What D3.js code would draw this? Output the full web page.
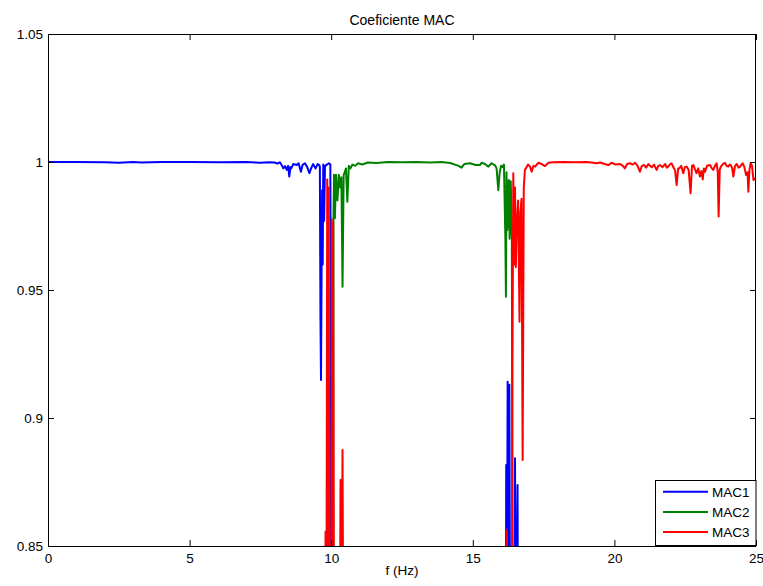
<!DOCTYPE html>
<html>
<head>
<meta charset="utf-8">
<script src="https://cdn.jsdelivr.net/npm/d3@7"></script>
<style>
  html, body { margin: 0; padding: 0; background: #fff; }
  svg { display: block; }
  text { font-family: "Liberation Sans", Arial, Helvetica, sans-serif; fill: #000; }
</style>
</head>
<body>
<svg id="chart" width="763" height="586"></svg>
<script>
// ---------------- data ----------------
const chartTitle = "Coeficiente MAC";
const xLabel = "f (Hz)";
const seriesNames = ["MAC1", "MAC2", "MAC3"];
const seriesColors = ["#0000ff", "#008000", "#ff0000"];
const xTicks = [0, 5, 10, 15, 20, 25];
const yTicks = [0.85, 0.9, 0.95, 1, 1.05];
const yTickLabels = ["0.85", "0.9", "0.95", "1", "1.05"];

// MAC1 (values below 0.85 fall outside the axes and are clipped)
const freqMAC1 = [0, 1.0, 2.0, 2.5, 3.0, 3.3, 4.0, 5.0, 6.0, 7.0,
  7.5, 7.8, 8.0, 8.1, 8.19, 8.25, 8.31, 8.37, 8.43, 8.48,
  8.52, 8.56, 8.59, 8.66, 8.78, 8.85, 8.93, 8.99, 9.07, 9.15,
  9.23, 9.29, 9.36, 9.45, 9.52, 9.58, 9.60, 9.62, 9.64, 9.66,
  9.68, 9.70, 9.72, 9.75, 9.78, 9.85, 9.92, 9.97, 9.99, 10.01,
  16.15, 16.18, 16.20, 16.23, 16.26, 16.29, 16.32, 16.46, 16.49, 16.52,
  16.58, 16.62, 25];
const valMAC1 = [1.0, 1.0, 0.9999, 0.9997, 1.0, 0.9998, 1.0, 1.0, 0.9999, 1.0,
  0.9997, 0.9999, 0.9998, 0.9994, 0.9999, 0.9988, 0.9975, 0.9984, 0.9969, 0.9985,
  0.9943, 0.9980, 0.9975, 0.9992, 0.9988, 0.9995, 0.9962, 0.9988, 0.9995, 0.9981,
  0.9956, 0.9975, 0.9992, 0.9975, 0.9992, 0.9988, 0.9980, 0.9400, 0.9148, 0.9566,
  0.9890, 0.9600, 0.9990, 0.9770, 0.9985, 0.9990, 0.9995, 0.9990, 0.9137, 0.70,
  0.70, 0.8816, 0.80, 0.9142, 0.82, 0.9130, 0.80, 0.80, 0.8843, 0.80,
  0.8738, 0.70, 0.70];

// MAC2
const freqMAC2 = [0, 9.90, 10.03, 10.05, 10.07, 10.08, 10.10, 10.13, 10.17, 10.22, 10.27,
  10.32, 10.36, 10.40, 10.44, 10.48, 10.52, 10.57, 10.62, 10.68, 10.75,
  10.85, 10.95, 11.1, 11.3, 11.6, 12.0, 12.5, 13.0, 13.5, 13.9,
  14.2, 14.5, 14.6, 14.7, 14.9, 15.1, 15.25, 15.31, 15.43, 15.55,
  15.66, 15.78, 15.84, 15.90, 15.95, 16.0, 16.05, 16.10, 16.15, 16.17,
  16.19, 16.22, 16.27, 16.30, 16.34, 16.38, 16.42, 25];
const valMAC2 = [0.70, 0.70, 0.80, 0.8953, 0.80, 0.9770, 0.9950, 0.9780, 0.9950, 0.9850, 0.9950,
  0.9900, 0.9940, 0.9513, 0.9950, 0.9960, 0.9975, 0.9845, 0.9985, 0.9975, 0.9990,
  0.9985, 0.9995, 0.9990, 0.9998, 0.9996, 1.0, 0.9999, 1.0, 0.9998, 1.0,
  0.9996, 0.9985, 0.9978, 0.9992, 0.9995, 0.9988, 0.9988, 0.9997, 0.9992, 0.9982,
  0.9995, 0.9988, 0.9975, 0.9890, 0.9960, 0.9985, 0.9980, 0.9990, 0.9700, 0.9474,
  0.9960, 0.9734, 0.9930, 0.9700, 0.9925, 0.9695, 0.70, 0.70];

// MAC3
const freqMAC3 = [0, 9.75, 9.80, 9.83, 9.86, 9.88, 9.91, 9.94, 10.01, 10.02, 10.05,
  10.07, 10.10, 10.30, 10.33, 10.36, 10.40, 10.43, 10.50, 16.15, 16.20,
  16.25, 16.38, 16.40, 16.43, 16.46, 16.49, 16.52, 16.55, 16.60, 16.65,
  16.68, 16.72, 16.76, 16.80, 16.84, 16.90, 16.95, 17.02, 17.08, 17.14,
  17.20, 17.31, 17.43, 17.55, 17.67, 17.84, 18.2, 18.6, 19.0, 19.26,
  19.37, 19.50, 19.65, 19.79, 19.90, 20.05, 20.20, 20.30, 20.37, 20.45,
  20.55, 20.65, 20.73, 20.82, 20.90, 20.97, 21.05, 21.12, 21.20, 21.26,
  21.32, 21.40, 21.49, 21.55, 21.61, 21.70, 21.79, 21.85, 21.90, 21.96,
  22.02, 22.08, 22.14, 22.20, 22.25, 22.29, 22.36, 22.43, 22.49, 22.55,
  22.62, 22.69, 22.74, 22.79, 22.85, 22.90, 22.96, 23.02, 23.07, 23.12,
  23.16, 23.20, 23.27, 23.38, 23.44, 23.49, 23.55, 23.61, 23.65, 23.68,
  23.72, 23.76, 23.83, 23.90, 23.96, 24.02, 24.07, 24.11, 24.16, 24.20,
  24.26, 24.32, 24.38, 24.44, 24.49, 24.53, 24.59, 24.65, 24.70, 24.73,
  24.77, 24.81, 24.86, 24.91, 24.96, 25.00];
const valMAC3 = [0.70, 0.70, 0.8556, 0.80, 0.9932, 0.82, 0.9900, 0.80, 0.80, 0.9776, 0.82,
  0.9760, 0.80, 0.80, 0.8758, 0.80, 0.8875, 0.80, 0.70, 0.70, 0.8562,
  0.80, 0.80, 0.9227, 0.9956, 0.9600, 0.9900, 0.9590, 0.9750, 0.9850, 0.9376,
  0.9800, 0.9856, 0.8836, 0.9900, 0.9969, 0.9980, 0.9990, 0.9982, 0.9962, 0.9985,
  0.9982, 0.9997, 0.9992, 0.9984, 0.9997, 0.9999, 1.0, 0.9999, 1.0, 0.9997,
  0.9995, 0.9998, 0.9992, 0.9988, 0.9997, 0.9990, 0.9992, 0.9985, 0.9975, 0.9992,
  0.9995, 0.9990, 0.9997, 0.9985, 0.9962, 0.9985, 0.9988, 0.9978, 0.9992, 0.9985,
  0.9979, 0.9990, 0.9969, 0.9985, 0.9988, 0.9980, 0.9992, 0.9978, 0.9982, 0.9990,
  0.9995, 0.9980, 0.9969, 0.9910, 0.9975, 0.9975, 0.9985, 0.9956, 0.9980, 0.9982,
  0.9970, 0.9878, 0.9985, 0.9988, 0.9970, 0.9956, 0.9975, 0.9943, 0.9965, 0.9932,
  0.9975, 0.9962, 0.9985, 0.9988, 0.9975, 0.9969, 0.9985, 0.9995, 0.9960, 0.9787,
  0.9970, 0.9982, 0.9992, 0.9997, 0.9985, 0.9982, 0.9990, 0.9988, 0.9975, 0.9943,
  0.9985, 0.9992, 0.9978, 0.9982, 0.9990, 0.9995, 0.9980, 0.9949, 0.9960, 0.9884,
  0.9970, 0.9995, 0.9985, 0.9930, 0.9935, 0.9930];

// ---------------- layout ----------------
const W = 763, H = 586;
const plot = { left: 48, right: 756, top: 34, bottom: 546 };
const fontSize = 13.5;
const titleSize = 14;
const tickLen = 6;

const svg = d3.select("#chart");
svg.append("rect").attr("width", W).attr("height", H).attr("fill", "#fff");

const x = d3.scaleLinear().domain([0, 25]).range([plot.left, plot.right]);
const y = d3.scaleLinear().domain([0.85, 1.05]).range([plot.bottom, plot.top]);

svg.append("defs").append("clipPath").attr("id", "plotClip")
  .append("rect")
  .attr("x", plot.left).attr("y", plot.top)
  .attr("width", plot.right - plot.left).attr("height", plot.bottom - plot.top);

// ---------------- series ----------------
const series = [
  { name: seriesNames[0], color: seriesColors[0], pts: d3.zip(freqMAC1, valMAC1) },
  { name: seriesNames[1], color: seriesColors[1], pts: d3.zip(freqMAC2, valMAC2) },
  { name: seriesNames[2], color: seriesColors[2], pts: d3.zip(freqMAC3, valMAC3) }
];

const line = d3.line().x(d => x(d[0])).y(d => y(d[1]));
const gLines = svg.append("g").attr("clip-path", "url(#plotClip)");
series.forEach(s => {
  gLines.append("path")
    .attr("d", line(s.pts))
    .attr("fill", "none")
    .attr("stroke", s.color)
    .attr("stroke-width", 2)
    .attr("stroke-linejoin", "round");
});

// ---------------- axes (MATLAB style box with inward ticks) ----------------
const axisStyle = g => {
  g.select(".domain").remove();
  g.selectAll("line").attr("stroke", "#000").attr("stroke-width", 1);
  g.selectAll("text").attr("font-size", fontSize).attr("font-family", "'Liberation Sans', Arial, sans-serif");
};

// bottom: labels + inward ticks
svg.append("g")
  .attr("transform", `translate(0,${plot.bottom})`)
  .call(d3.axisBottom(x).tickValues(xTicks).tickFormat(d3.format("d")).tickSizeInner(-tickLen).tickSizeOuter(0).tickPadding(7))
  .call(axisStyle);
// top: inward ticks only
svg.append("g")
  .attr("transform", `translate(0,${plot.top})`)
  .call(d3.axisTop(x).tickValues(xTicks).tickFormat("").tickSizeInner(-tickLen).tickSizeOuter(0))
  .call(axisStyle);
// left: labels + inward ticks
svg.append("g")
  .attr("transform", `translate(${plot.left},0)`)
  .call(d3.axisLeft(y).tickValues(yTicks).tickFormat((d, i) => yTickLabels[i]).tickSizeInner(-tickLen).tickSizeOuter(0).tickPadding(5))
  .call(axisStyle);
// right: inward ticks only
svg.append("g")
  .attr("transform", `translate(${plot.right},0)`)
  .call(d3.axisRight(y).tickValues(yTicks).tickFormat("").tickSizeInner(-tickLen).tickSizeOuter(0))
  .call(axisStyle);

// frame
svg.append("rect")
  .attr("x", plot.left + 0.5).attr("y", plot.top + 0.5)
  .attr("width", plot.right - plot.left - 1).attr("height", plot.bottom - plot.top)
  .attr("fill", "none").attr("stroke", "#000").attr("stroke-width", 1);

// ---------------- title & label ----------------
svg.append("text")
  .attr("x", (plot.left + plot.right) / 2).attr("y", 25)
  .attr("text-anchor", "middle").attr("font-size", titleSize)
  .text(chartTitle);

svg.append("text")
  .attr("x", (plot.left + plot.right) / 2).attr("y", 575)
  .attr("text-anchor", "middle").attr("font-size", fontSize)
  .text(xLabel);

// ---------------- legend ----------------
const lg = { x: 655.5, y: 480.5, w: 100.5, h: 65, rowY: [491.7, 512, 532], x1: 663, x2: 708, tx: 712 };
const gLeg = svg.append("g");
gLeg.append("rect")
  .attr("x", lg.x).attr("y", lg.y).attr("width", lg.w).attr("height", lg.h)
  .attr("fill", "#fff").attr("stroke", "#000").attr("stroke-width", 1);
series.forEach((s, i) => {
  gLeg.append("line")
    .attr("x1", lg.x1).attr("x2", lg.x2)
    .attr("y1", lg.rowY[i]).attr("y2", lg.rowY[i])
    .attr("stroke", s.color).attr("stroke-width", 2);
  gLeg.append("text")
    .attr("x", lg.tx).attr("y", lg.rowY[i]).attr("dy", "0.36em")
    .attr("font-size", fontSize)
    .text(s.name);
});
</script>
</body>
</html>
